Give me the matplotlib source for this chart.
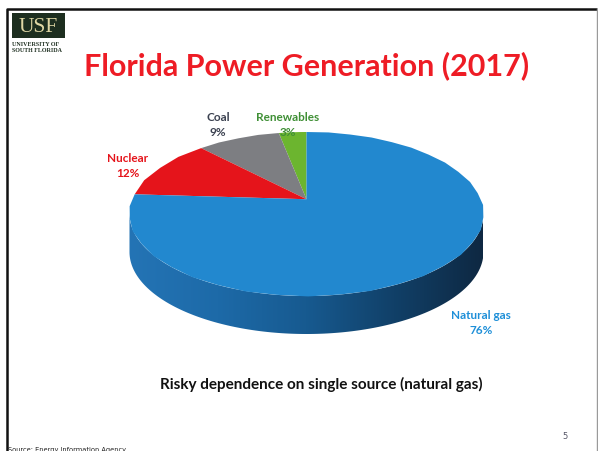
import numpy as np
import matplotlib.pyplot as plt
from matplotlib.patches import Polygon, Rectangle
from matplotlib.colors import LinearSegmentedColormap

# data (order as drawn, counter-clockwise from 12 o'clock)
sources = ["Renewables", "Coal", "Nuclear", "Natural gas"]
shares = [3, 9, 12, 76]
colors = ["#6cb52f", "#7d7e82", "#e5141b", "#2288cf"]
label_colors = ["#3f8f35", "#3b4150", "#e5141b", "#1e8fd8"]
title = "Florida Power Generation (2017)"
subtitle = "Risky dependence on single source (natural gas)"

W, H = 598, 452
fig = plt.figure(figsize=(W / 100, H / 100), dpi=100)
fig.patch.set_facecolor("white")

# overlay in pixel coordinates for slide decorations and text
ov = fig.add_axes([0, 0, 1, 1], zorder=3)
ov.set_xlim(0, W)
ov.set_ylim(H, 0)
ov.axis("off")
ov.patch.set_visible(False)

# pie placement (pixels): ellipse centre, half axes, side depth
cx, cy, a, b, depth = 306.5, 215, 177, 82, 38
k = 0.18  # perspective tilt, pulls the apex towards the back
dd = depth / b
pad = 1.1
left = cx - pad * a
top = cy - pad * b
wpx = 2 * pad * a
hpx = (2 * pad + dd) * b
ax = fig.add_axes([left / W, 1 - (top + hpx) / H, wpx / W, hpx / H], zorder=2)


def persp(xy):
    x, y = xy[:, 0], xy[:, 1]
    d = 1 + k * y
    return np.column_stack([x / d * np.sqrt(1 - k * k), (y / d) * (1 - k * k) + k])


# side of the cylinder with left-to-right shading
th = np.linspace(np.pi, 2 * np.pi, 200)
top_edge = np.column_stack([np.cos(th), np.sin(th)])
bot_edge = np.column_stack([np.cos(th[::-1]), np.sin(th[::-1]) - dd])
side = Polygon(np.vstack([top_edge, bot_edge]), closed=True, facecolor="none", edgecolor="none")
ax.add_patch(side)
side_cmap = LinearSegmentedColormap.from_list(
    "side", ["#2474b5", "#1d6aa8", "#175a90", "#114068", "#0e2842"])
grad = np.tile(np.linspace(0, 1, 256), (8, 1))
im = ax.imshow(grad, cmap=side_cmap, extent=[-1, 1, -1 - dd, 0], aspect="auto", zorder=1)
im.set_clip_path(side)

wedges, _ = ax.pie(shares, colors=colors, startangle=90, counterclock=True, radius=1,
                   wedgeprops=dict(linewidth=0, zorder=2))
# re-draw each wedge with a slight perspective so the apex sits behind the centre
for w in wedges:
    pts = w.get_path().to_polygons()[0]
    ax.add_patch(Polygon(persp(pts), closed=True, facecolor=w.get_facecolor(),
                         edgecolor="none", zorder=2))
    w.set_visible(False)

ax.set_aspect("auto")
ax.set_xlim(-pad, pad)
ax.set_ylim(-pad - dd, pad)
ax.axis("off")

# slide frame
ov.plot([7, 7, 597], [452, 10, 10], color="#111111", lw=1.8, solid_capstyle="butt")
ov.plot([597, 597], [10, 452], color="#9a9a9a", lw=1.0)

# USF logo
ov.add_patch(Rectangle((12, 14), 53, 25, facecolor="#1d2e1f", edgecolor="none"))
ov.text(38.5, 27, "USF", color="#e0d7a4", fontsize=15.5, family="Liberation Serif",
        ha="center", va="center")
ov.text(12, 44, "UNIVERSITY OF", color="#1d2e1f", fontsize=4.3, family="Liberation Serif",
        fontweight="bold", ha="left", va="center")
ov.text(12, 50, "SOUTH FLORIDA", color="#1d2e1f", fontsize=4.3, family="Liberation Serif",
        fontweight="bold", ha="left", va="center")

# titles
ov.text(307, 66, title, color="#ee1c25", fontsize=22, fontweight="bold", family="Lato",
        ha="center", va="center")
ov.text(321, 384, subtitle, color="#111111", fontsize=11, fontweight="bold", family="Lato",
        ha="center", va="center")

# slice labels
label_pos = [(288, 125), (218, 125), (128, 166), (481, 323)]
for name, val, col, (x, y) in zip(sources, shares, label_colors, label_pos):
    ov.text(x, y, f"{name}\n{val}%", color=col, fontsize=8.5, fontweight="bold", family="Lato",
            ha="center", va="center", linespacing=1.4)

ov.text(8, 450, "Source: Energy Information Agency", fontsize=4.8, color="#222222",
        ha="left", va="center")
ov.text(565, 437, "5", fontsize=6, color="#555566", ha="center", va="center")

fig.savefig("out.png", dpi=100)
